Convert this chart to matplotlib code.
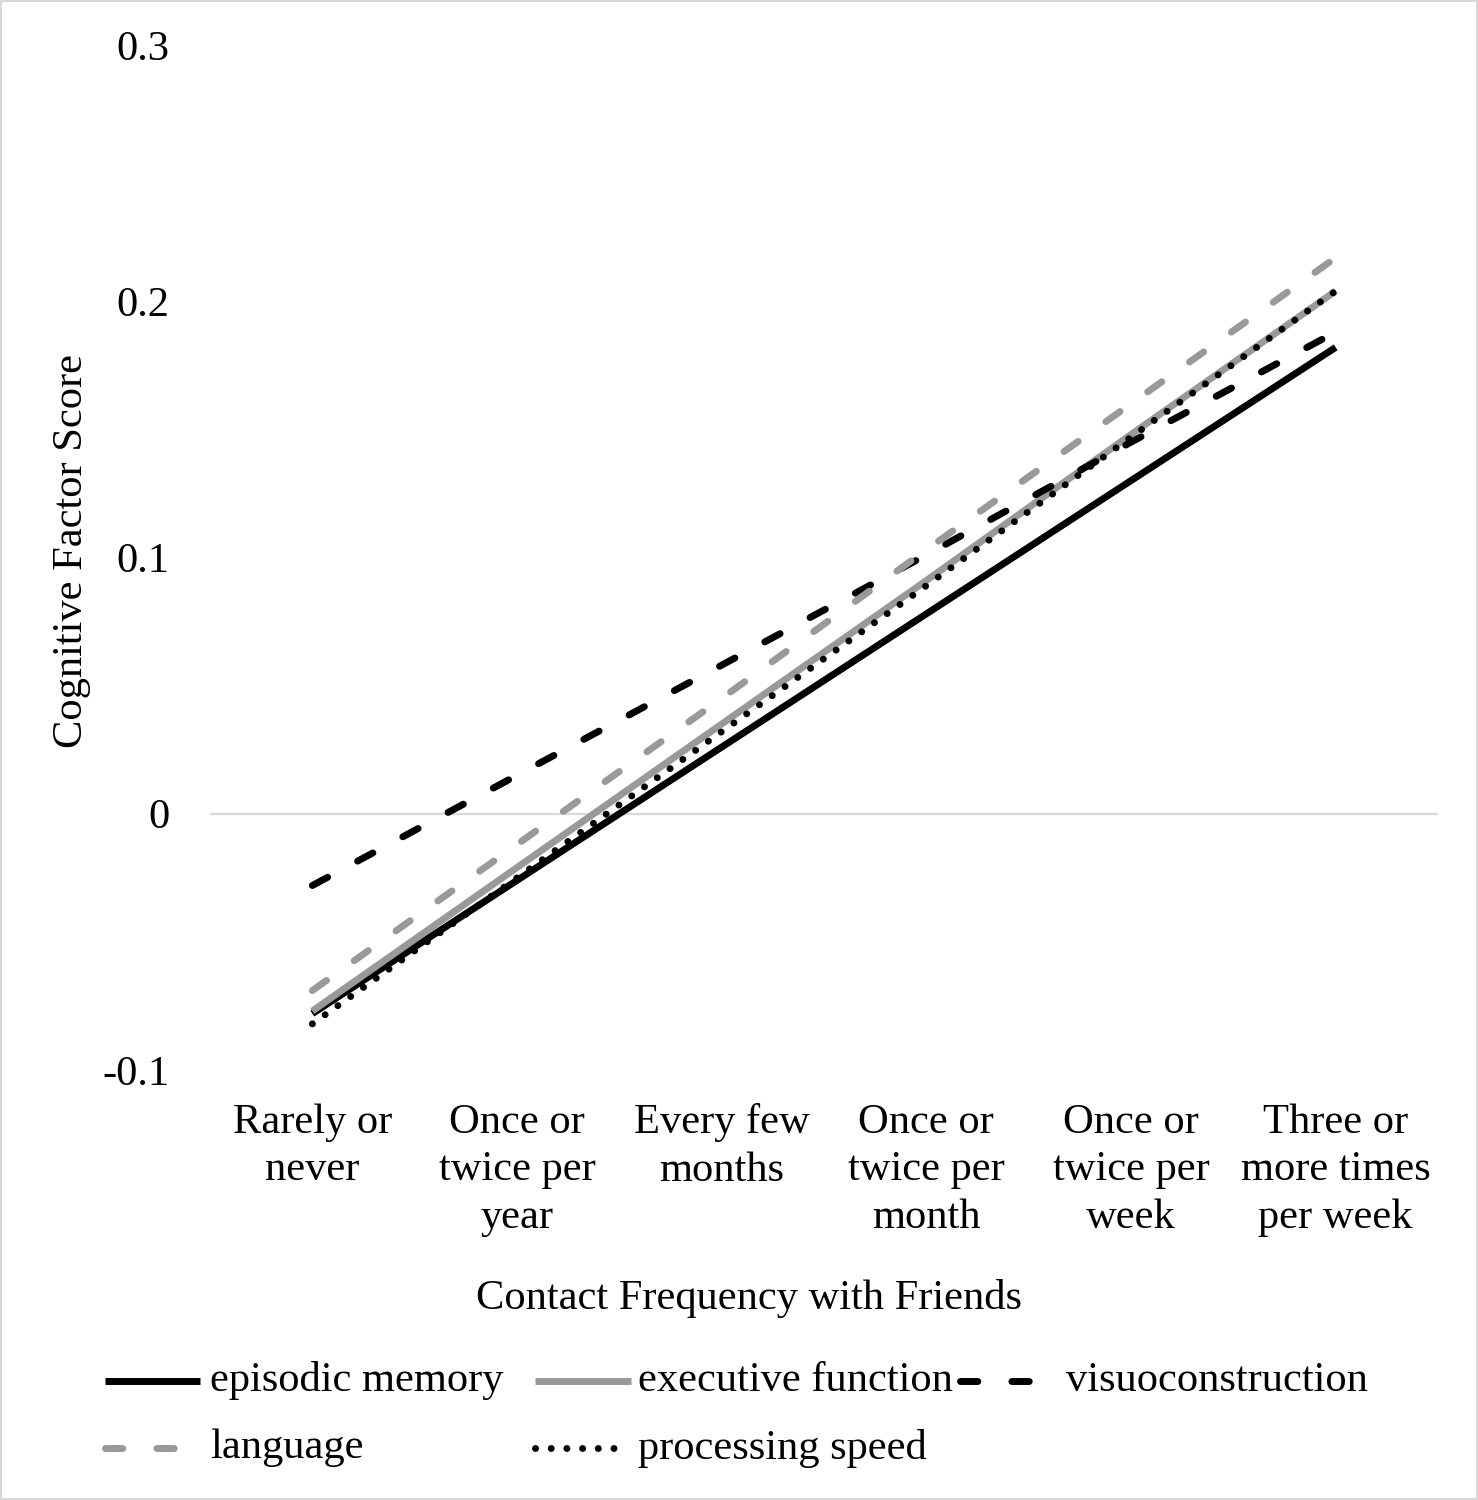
import matplotlib
matplotlib.use('Agg')
import matplotlib.pyplot as plt
from matplotlib.lines import Line2D
from matplotlib.patches import Rectangle

# ---------------- data ----------------
categories = ["Rarely or\nnever", "Once or\ntwice per\nyear", "Every few\nmonths",
              "Once or\ntwice per\nmonth", "Once or\ntwice per\nweek",
              "Three or\nmore times\nper week"]
episodic_memory = [-0.078, -0.026, 0.026, 0.078, 0.130, 0.182]
executive_function = [-0.077, -0.021, 0.035, 0.091, 0.148, 0.204]
visuoconstruction = [-0.028, 0.015, 0.058, 0.101, 0.145, 0.188]
language = [-0.069, -0.012, 0.045, 0.103, 0.160, 0.217]
processing_speed = [-0.082, -0.025, 0.032, 0.089, 0.147, 0.204]
series_names = ["episodic memory", "executive function", "visuoconstruction",
                "language", "processing speed"]
y_ticks = [-0.1, 0.0, 0.1, 0.2, 0.3]
y_tick_labels = ["-0.1", "0", "0.1", "0.2", "0.3"]
x_title = "Contact Frequency with Friends"
y_title = "Cognitive Factor Score"

# ---------------- style ----------------
plt.rcParams['font.family'] = ['Liberation Serif', 'DejaVu Serif']
FS = 30.6
W, H = 1478, 1500
BLACK = '#000000'
GRAY = '#999999'
LW = 5.0
DASH = (0, (2.5, 4.9))
DOT = (0, (0.01, 2.25))

styles = [
    dict(color=BLACK, linestyle='-', lw=LW),
    dict(color=GRAY, linestyle='-', lw=LW),
    dict(color=BLACK, linestyle=DASH, lw=LW, dash_capstyle='round'),
    dict(color=GRAY, linestyle=DASH, lw=LW, dash_capstyle='round'),
    dict(color=BLACK, linestyle=DOT, lw=LW, dash_capstyle='round'),
]
data = [episodic_memory, executive_function, visuoconstruction, language, processing_speed]

fig = plt.figure(figsize=(W / 100, H / 100), dpi=100)
fig.patch.set_facecolor('white')

left, right = 210 / W, 1438 / W
top, bottom = 1 - 45 / H, 1 - 1070 / H
ax = fig.add_axes([left, bottom, right - left, top - bottom])

x = list(range(len(categories)))
for vals, st in zip(data, styles):
    ax.plot(x, vals, solid_capstyle='butt', **st)

ax.axhline(0, color='#d9d9d9', lw=1.6, zorder=0)
ax.set_xlim(-0.5, len(categories) - 0.5)
ax.set_ylim(-0.1, 0.3)
ax.set_yticks(y_ticks)
ax.set_yticklabels(y_tick_labels, fontsize=FS)
ax.set_xticks(x)
ax.set_xticklabels(categories, fontsize=FS, linespacing=1.3, va='top')
ax.tick_params(axis='y', length=0, pad=29)
ax.tick_params(axis='x', length=0, pad=24)
for s in ax.spines.values():
    s.set_visible(False)

fig.text(749 / W, 1 - 1298 / H, x_title, fontsize=FS, ha='center', va='center')
fig.text(72 / W, 1 - 551 / H, y_title, fontsize=FS, ha='center', va='center', rotation=90)

# ---------------- legend (manual, fixed column positions) ----------------
leg_pos = [
    (105, 200, 1381), (535, 631, 1381), (960, 1046, 1381),
    (105, 189, 1448), (535, 619, 1448),
]
text_x = [210, 638, 1066, 210, 638]
for (x0, x1, yy), tx, name, st in zip(leg_pos, text_x, series_names, styles):
    ln = Line2D([x0 / W, x1 / W], [1 - yy / H, 1 - yy / H], transform=fig.transFigure,
                solid_capstyle='butt', **st)
    fig.add_artist(ln)
    fig.text(tx / W, 1 - yy / H, name, fontsize=FS, ha='left', va='center')

# border
fig.add_artist(Rectangle((0.0007, 0.0007), 0.9986, 0.9986, transform=fig.transFigure,
                         fill=False, edgecolor='#d9d9d9', lw=1.5))

fig.savefig('out.png', dpi=100)
